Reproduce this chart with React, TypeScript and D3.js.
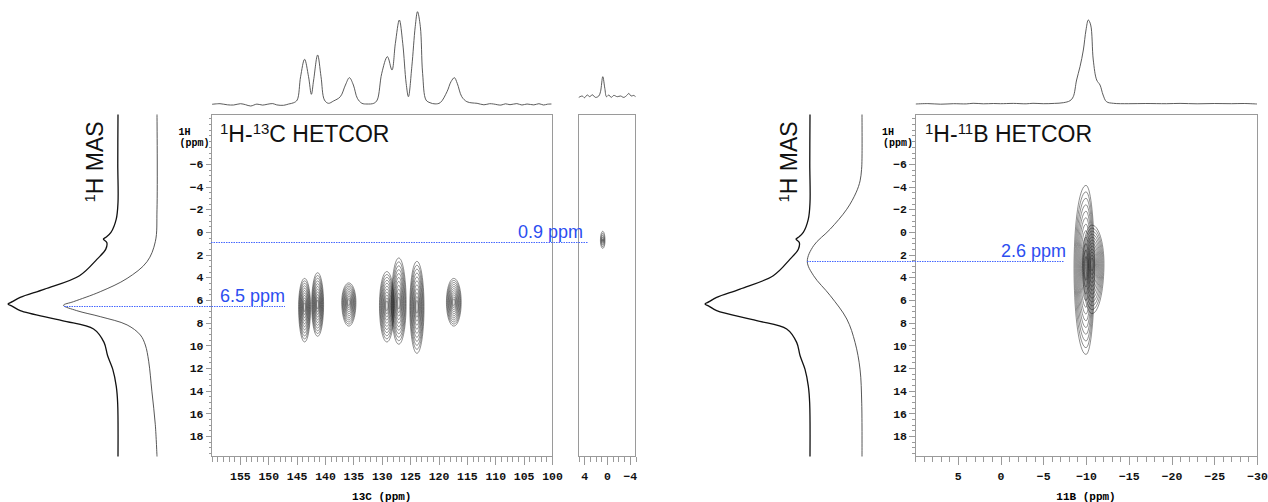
import React, { useEffect, useRef } from 'react';
import * as d3 from 'd3';

// 13C projection above the 1H-13C HETCOR  [13C ppm, intensity]
const C13_PROJECTION: [number, number][] = [
  [159.9, 0.2], [158.5, 0.8], [157.2, -0.3], [156.1, -0.5], [154.9, 0.8], [154.0, -0.2],
  [153.1, -1.5], [152.0, 0.4], [151.0, -0.6], [150.2, 0.2], [149.2, 0.9], [148.5, -0.4],
  [147.3, -0.8], [146.4, 0.5], [145.5, 1.8], [144.9, 4.5], [144.3, 27.8], [143.6, 45.2],
  [142.9, 27.8], [142.4, 10.2], [142.0, 24.5], [141.3, 49.5], [140.7, 27.8], [140.1, 4.5],
  [139.4, 1.2], [138.5, 3.5], [137.3, 7.8], [136.4, 19.5], [135.7, 26.8], [135.0, 19.5],
  [134.3, 6.2], [133.5, 1.2], [132.6, 0.5], [131.4, 1.2], [130.8, 4.5], [130.0, 31.2],
  [129.0, 47.8], [128.2, 34.5], [127.6, 61.2], [126.9, 84.5], [126.3, 61.2], [125.7, 21.2],
  [125.3, 7.8], [124.7, 37.8], [124.1, 77.8], [123.7, 92.8], [123.2, 77.8], [122.8, 31.2],
  [122.2, 4.5], [121.5, 1.8], [120.6, 0.6], [119.7, 1.8], [118.5, 12.8], [117.8, 22.8],
  [117.2, 26.8], [116.7, 21.2], [115.9, 7.8], [115.0, 2.8], [114.1, 1.6], [113.2, 1.2],
  [112.0, -0.3], [111.0, 0.8], [110.3, 0.5], [109.0, -0.6], [108.2, 0.7], [107.4, -0.2],
  [106.2, 0.9], [105.3, -0.5], [104.4, 0.5], [103.2, -0.4], [102.3, 0.8], [101.5, -0.5],
  [100.8, 0.3], [100.1, 0.5],
];

// projection above the 0 ppm strip
const STRIP_PROJECTION: [number, number][] = [
  [4.95, -0.7], [4.35, 0.7], [3.95, -1], [3.47, 1.7], [3.0, 0], [2.6, 2], [2.02, -0.7],
  [1.44, 0.7], [1.14, 5], [0.74, 20], [0.38, 8.3], [0.09, 0], [-0.32, 1.7], [-0.74, -0.7],
  [-1.2, 1.3], [-1.8, 0], [-2.37, 0.7], [-2.95, -0.7], [-3.54, 1.7], [-3.82, 3.3],
  [-4.23, 0.7], [-4.7, 1.3], [-5.0, 0],
];

// 11B projection above the 1H-11B HETCOR
const B11_PROJECTION: [number, number][] = [
  [9.9, 0], [8.5, 0.4], [7, -0.2], [5.5, 0.3], [4, 0.1], [3.2, 0.7], [2, 0.2], [0.8, 0.5],
  [0, 0.3], [-1.5, 0.6], [-3, 0.2], [-3.8, 0.7], [-5, 0.3], [-6.3, 0.6], [-7.35, 1.3],
  [-8.13, 3.3], [-8.51, 7.3], [-8.9, 24], [-9.3, 37.3], [-9.69, 54], [-10.0, 74],
  [-10.27, 84], [-10.55, 79], [-10.85, 44], [-11.25, 24], [-11.64, 19], [-12.0, 9],
  [-12.4, 2.3], [-13.2, 0.7], [-15, 0.3], [-17, 0.5], [-19.4, 0.3], [-21, 0.6],
  [-23, 0.2], [-25, 0.5], [-27, 0.3], [-28.5, 0.5], [-30, 0],
];

// 1H MAS spectrum (thick trace, both panels)  [1H ppm, intensity]
const H1_MAS: [number, number][] = [
  [-10.35, 0], [-6, 0.2], [-2.6, 0], [-1.13, 1.6], [0.04, 6.4], [0.48, 11.1], [0.63, 13.3],
  [0.93, 10.2], [1.52, 11.1], [2.4, 19], [3.86, 35], [5.04, 66.7], [5.77, 88.9], [6.15, 96],
  [6.36, 100], [6.56, 96], [6.94, 88.9], [7.82, 50.8], [8.56, 22.2], [9.74, 12.7],
  [10.9, 9.5], [12.1, 4.8], [13.6, 1.6], [15.1, 0.3], [19.8, 0],
];

// 1H projection of the 13C HETCOR (thin trace)
const H1_PROJ_C13: [number, number][] = [
  [-10.35, 0], [-2.0, 0], [0.86, 1.8], [2.63, 10.7], [4.1, 32], [5.27, 60.7], [6.15, 89.3],
  [6.47, 100], [6.94, 85.9], [7.47, 60.7], [8.2, 32], [9.09, 17.8], [9.97, 12.5],
  [11.4, 8.9], [14.1, 5.4], [17.0, 1.8], [19.8, 0],
];

// 1H projection of the 11B HETCOR (thin trace)
const H1_PROJ_B11: [number, number][] = [
  [-10.35, 0], [-6.5, 0], [-5.5, 0.8], [-4.5, 3.5], [-3.5, 10.5], [-2.0, 27.8], [-0.25, 58],
  [1.22, 88.5], [2.6, 100], [3.86, 88.5], [5.62, 58], [7.68, 27.8], [9.74, 12.7], [12.1, 3.6],
  [15.1, 0.5], [19.8, 0],
];

// cross peaks: X shift, 1H centre, 1H upper / lower edge, X edges
const C13_PEAK_SHIFT = [143.6, 141.3, 135.8, 129.1, 127.0, 123.8, 117.3];
const C13_PEAK_H1 = [6.6, 6.4, 6.2, 6.5, 6.3, 6.6, 6.2];
const C13_PEAK_H1_TOP = [4.1, 3.6, 4.5, 3.5, 2.3, 2.6, 4.1];
const C13_PEAK_H1_BOTTOM = [9.7, 9.2, 8.3, 9.7, 9.9, 10.7, 8.3];
const C13_PEAK_HALF_WIDTH = [1.05, 1.05, 1.25, 1.3, 1.3, 1.25, 1.3];

const STRIP_PEAK_SHIFT = [0.75];
const STRIP_PEAK_H1 = [0.75];
const STRIP_PEAK_H1_TOP = [-0.05];
const STRIP_PEAK_H1_BOTTOM = [1.45];
const STRIP_PEAK_HALF_WIDTH = [0.4];

const B11_PEAK_SHIFT = [-10.0, -10.7];
const B11_PEAK_H1 = [3.2, 2.8];
const B11_PEAK_H1_TOP = [-4.1, -0.6];
const B11_PEAK_H1_BOTTOM = [10.8, 7.2];
const B11_PEAK_DOWNFIELD = [-8.6, -9.6];
const B11_PEAK_UPFIELD = [-11.0, -12.1];

// axis labels
const C13_TICKS = [155, 150, 145, 140, 135, 130, 125, 120, 115, 110, 105, 100];
const STRIP_TICKS = [4, 0, -4];
const B11_TICKS = [5, 0, -5, -10, -15, -20, -25, -30];
const H1_TICKS = [-6, -4, -2, 0, 2, 4, 6, 8, 10, 12, 14, 16, 18];

// dotted slice markers (1H ppm)
const C13_SLICE = 6.5;
const STRIP_SLICE = 0.9;
const B11_SLICE = 2.6;

const MONO = "'Liberation Mono', 'Courier New', monospace";
const SANS = "'Liberation Sans', Arial, sans-serif";
const AXIS_GREY = '#9a9a9a';
const BLUE = '#2c4ef0';

type Peak = { x: number; h1: number; top: number; bottom: number; left: number; right: number };

const App = () => {
  const svgRef = useRef<SVGSVGElement | null>(null);

  useEffect(() => {
    if (!svgRef.current) return;
    const svg = d3.select(svgRef.current);
    svg.selectAll('*').remove();

    const top = 114.5;
    const bottom = 456.5;
    const yH = d3.scaleLinear().domain([-10.35, 19.8]).range([top, bottom]);

    const xC = d3.scaleLinear().domain([160, 100]).range([211.5, 552]);
    const xS = d3.scaleLinear().domain([5, -5]).range([578.5, 635.5]);
    const xB = d3.scaleLinear().domain([10, -30]).range([915, 1257]);

    // frames
    [xC, xS, xB].forEach((xs) => {
      const [a, b] = xs.range();
      svg
        .append('rect')
        .attr('x', a)
        .attr('y', top)
        .attr('width', b - a)
        .attr('height', bottom - top)
        .attr('fill', 'none')
        .attr('stroke', AXIS_GREY)
        .attr('shape-rendering', 'crispEdges');
    });

    const styleAxis = (g: any) => {
      g.selectAll('.domain').remove();
      g.selectAll('line').attr('stroke', AXIS_GREY).attr('shape-rendering', 'crispEdges');
      g.selectAll('text')
        .attr('font-family', MONO)
        .attr('font-weight', 'bold')
        .attr('font-size', 11.5)
        .attr('fill', '#111');
    };

    // bottom axes
    const bottomAxis = (xs: d3.ScaleLinear<number, number>, majors: number[]) => {
      const [d0, d1] = xs.domain();
      const minors = d3.range(Math.min(d0, d1), Math.max(d0, d1) + 0.01, 1);
      const g = svg.append('g').attr('transform', `translate(0,${bottom})`);
      g.append('g').call(d3.axisBottom(xs).tickValues(minors).tickSize(5).tickFormat(() => ''));
      g.append('g').call(
        d3.axisBottom(xs).tickValues(majors).tickSize(8).tickPadding(7).tickFormat(d3.format('d'))
      );
      styleAxis(g);
    };
    bottomAxis(xC, C13_TICKS);
    bottomAxis(xS, STRIP_TICKS);
    bottomAxis(xB, B11_TICKS);

    // 1H axes
    const leftAxis = (x0: number) => {
      const g = svg.append('g').attr('transform', `translate(${x0},0)`);
      g.append('g').call(
        d3.axisLeft(yH).tickValues(d3.range(-10, 19.6, 0.5)).tickSize(3).tickFormat(() => '')
      );
      g.append('g').call(
        d3.axisLeft(yH).tickValues(H1_TICKS).tickSize(6).tickPadding(2).tickFormat(d3.format('d'))
      );
      styleAxis(g);
      svg.append('text').attr('x', x0 - 33).attr('y', 135).text('1H')
        .attr('font-family', MONO).attr('font-weight', 'bold').attr('font-size', 10);
      svg.append('text').attr('x', x0 - 32).attr('y', 146).text('(ppm)')
        .attr('font-family', MONO).attr('font-weight', 'bold').attr('font-size', 10);
    };
    leftAxis(xC.range()[0]);
    leftAxis(xB.range()[0]);

    // axis titles
    [
      { xs: xC, label: '13C (ppm)' },
      { xs: xB, label: '11B (ppm)' },
    ].forEach(({ xs, label }) => {
      svg
        .append('text')
        .attr('x', d3.mean(xs.range()) as number)
        .attr('y', 500)
        .attr('text-anchor', 'middle')
        .attr('font-family', MONO)
        .attr('font-weight', 'bold')
        .attr('font-size', 11)
        .text(label);
    });

    // top projections
    const projection = (data: [number, number][], xs: d3.ScaleLinear<number, number>, base: number) => {
      const yi = d3.scaleLinear().domain([0, 100]).range([base, base - 100]);
      svg
        .append('path')
        .datum(data)
        .attr('fill', 'none')
        .attr('stroke', '#4a4a4a')
        .attr('stroke-width', 0.9)
        .attr(
          'd',
          d3
            .line<[number, number]>()
            .x((d) => xs(d[0]))
            .y((d) => yi(d[1]))
            .curve(d3.curveCatmullRom.alpha(0.5))
        );
    };
    projection(C13_PROJECTION, xC, 104.5);
    projection(STRIP_PROJECTION, xS, 96.7);
    projection(B11_PROJECTION, xB, 104);

    // vertical 1H traces
    const trace = (
      data: [number, number][],
      base: number,
      tip: number,
      color: string,
      width: number
    ) => {
      const xi = d3.scaleLinear().domain([0, 100]).range([base, tip]);
      svg
        .append('path')
        .datum(data)
        .attr('fill', 'none')
        .attr('stroke', color)
        .attr('stroke-width', width)
        .attr(
          'd',
          d3
            .line<[number, number]>()
            .x((d) => xi(d[1]))
            .y((d) => yH(d[0]))
            .curve(d3.curveCatmullRom.alpha(0.5))
        );
      return xi;
    };
    trace(H1_MAS, 118, 8, '#111', 1.3);
    const thinC = trace(H1_PROJ_C13, 157, 63.5, '#444', 0.9);
    trace(H1_MAS, 810, 705, '#111', 1.3);
    const thinB = trace(H1_PROJ_B11, 862, 807.3, '#444', 0.9);

    // contour plots
    const contours = (xs: d3.ScaleLinear<number, number>, peaks: Peak[], levels: number) => {
      const g = svg.append('g');
      peaks.forEach((p) => {
        const cx = xs(p.x);
        const cy = yH(p.h1);
        const rl = cx - xs(p.left);
        const rr = xs(p.right) - cx;
        const rt = cy - yH(p.top);
        const rb = yH(p.bottom) - cy;
        for (let k = 0; k < levels; k++) {
          const s = 1 - (k * 0.86) / (levels - 1);
          const pts = d3.range(72).map((i) => {
            const a = (i / 72) * 2 * Math.PI;
            const c = Math.cos(a);
            const sn = Math.sin(a);
            return [cx + s * c * (c < 0 ? rl : rr), cy + s * sn * (sn < 0 ? rt : rb)] as [number, number];
          });
          g.append('path')
            .attr('d', d3.line().curve(d3.curveLinearClosed)(pts))
            .attr('fill', 'none')
            .attr('stroke', '#1a1a1a')
            .attr('stroke-width', 0.55)
            .attr('stroke-opacity', 0.9);
        }
      });
    };

    contours(
      xC,
      C13_PEAK_SHIFT.map((x, i) => ({
        x,
        h1: C13_PEAK_H1[i],
        top: C13_PEAK_H1_TOP[i],
        bottom: C13_PEAK_H1_BOTTOM[i],
        left: x + C13_PEAK_HALF_WIDTH[i],
        right: x - C13_PEAK_HALF_WIDTH[i],
      })),
      11
    );
    contours(
      xS,
      STRIP_PEAK_SHIFT.map((x, i) => ({
        x,
        h1: STRIP_PEAK_H1[i],
        top: STRIP_PEAK_H1_TOP[i],
        bottom: STRIP_PEAK_H1_BOTTOM[i],
        left: x + STRIP_PEAK_HALF_WIDTH[i],
        right: x - STRIP_PEAK_HALF_WIDTH[i],
      })),
      5
    );
    contours(
      xB,
      B11_PEAK_SHIFT.map((x, i) => ({
        x,
        h1: B11_PEAK_H1[i],
        top: B11_PEAK_H1_TOP[i],
        bottom: B11_PEAK_H1_BOTTOM[i],
        left: B11_PEAK_DOWNFIELD[i],
        right: B11_PEAK_UPFIELD[i],
      })),
      12
    );

    // dotted slice markers with labels
    const slice = (ppm: number, x0: number, x1: number, labelEnd: number) => {
      const yy = Math.round(yH(ppm)) + 0.5;
      svg
        .append('line')
        .attr('x1', x0)
        .attr('x2', x1)
        .attr('y1', yy)
        .attr('y2', yy)
        .attr('stroke', '#4466ff')
        .attr('stroke-width', 1.2)
        .attr('stroke-dasharray', '1.5,1');
      svg
        .append('text')
        .attr('x', labelEnd)
        .attr('y', yy - 5)
        .attr('text-anchor', 'end')
        .attr('font-family', SANS)
        .attr('font-size', 18)
        .attr('fill', BLUE)
        .text(`${ppm.toFixed(1)} ppm`);
    };
    slice(C13_SLICE, Math.round(thinC(100)), 285, 285);
    slice(STRIP_SLICE, xC.range()[0] - 0.5, 588, 583);
    slice(B11_SLICE, Math.round(thinB(100)), 1064, 1066);

    // titles with superscripts
    const title = (x: number, parts: [string, boolean][]) => {
      const t = svg
        .append('text')
        .attr('x', x)
        .attr('y', 142)
        .attr('font-family', SANS)
        .attr('font-size', 23)
        .attr('fill', '#111');
      let up = false;
      parts.forEach(([s, sup]) => {
        const span = t.append('tspan').text(s);
        if (sup && !up) span.attr('font-size', 15).attr('dy', -8);
        if (sup && up) span.attr('font-size', 15);
        if (!sup && up) span.attr('dy', 8);
        up = sup;
      });
      return t;
    };
    title(220, [['1', true], ['H-', false], ['13', true], ['C HETCOR', false]]);
    title(925, [['1', true], ['H-', false], ['11', true], ['B HETCOR', false]]);

    // rotated 1H MAS labels
    [
      { x: 103, y: 162 },
      { x: 797, y: 162 },
    ].forEach(({ x, y }) => {
      const t = svg
        .append('text')
        .attr('transform', `translate(${x},${y}) rotate(-90)`)
        .attr('text-anchor', 'middle')
        .attr('font-family', SANS)
        .attr('font-size', 23)
        .attr('fill', '#111');
      t.append('tspan').attr('font-size', 15).attr('dy', -8).text('1');
      t.append('tspan').attr('dy', 8).text('H MAS');
    });
  }, []);

  return (
    <div style={{ position: 'absolute', left: 0, top: 0, background: '#fff' }}>
      <svg ref={svgRef} width={1268} height={502} style={{ display: 'block' }} />
    </div>
  );
};

export default App;
